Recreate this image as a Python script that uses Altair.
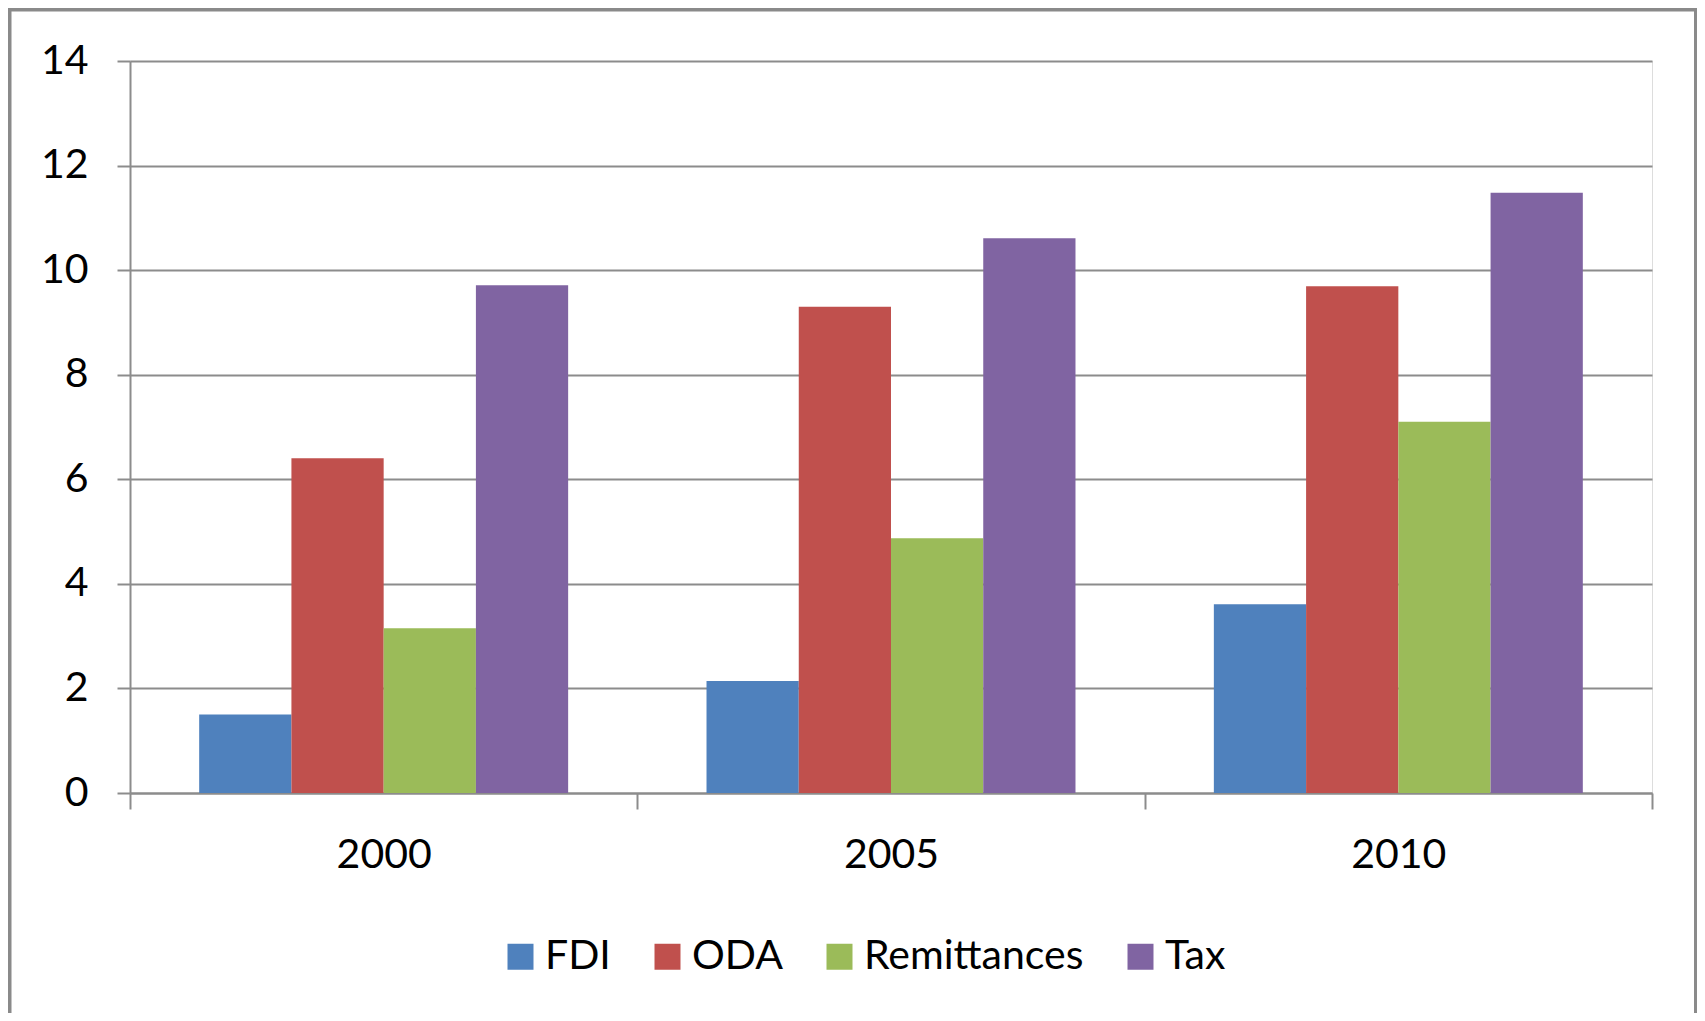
import altair as alt
import pandas as pd

years = ["2000", "2005", "2010"]
series = ["FDI", "ODA", "Remittances", "Tax"]
fdi = [1.5, 2.14, 3.61]
oda = [6.4, 9.3, 9.69]
remittances = [3.15, 4.87, 7.1]
tax = [9.71, 10.61, 11.48]
colors = ["#4F81BD", "#C0504D", "#9BBB59", "#8064A2"]
y_ticks = [0, 2, 4, 6, 8, 10, 12, 14]

rows = []
for i, yr in enumerate(years):
    for s, vals in zip(series, [fdi, oda, remittances, tax]):
        rows.append({"year": yr, "series": s, "value": vals[i]})
df = pd.DataFrame(rows)

W, H = 1522, 732
FONT = "Lato"
FS = 41
GRID = "#8C8C8C"

bars = alt.Chart(df).mark_bar(strokeWidth=0).encode(
    x=alt.X(
        "year:N", sort=years,
        scale=alt.Scale(paddingInner=0, paddingOuter=0),
        axis=alt.Axis(
            title=None, labelAngle=0, tickBand="extent", ticks=True, tickSize=16,
            tickColor=GRID, tickWidth=2, domainColor=GRID, domainWidth=2,
            labelFont=FONT, labelFontSize=FS, labelColor="#000000",
            labelPadding=26, grid=False,
        ),
    ),
    xOffset=alt.XOffset(
        "series:N", sort=series,
        scale=alt.Scale(paddingOuter=0.75, paddingInner=0),
    ),
    y=alt.Y(
        "value:Q",
        scale=alt.Scale(domain=[0, 14], nice=False),
        axis=alt.Axis(
            title=None, values=y_ticks, grid=True, gridColor=GRID, gridWidth=2,
            tickSize=13, tickColor=GRID, tickWidth=2, domainColor=GRID, domainWidth=2,
            labelFont=FONT, labelFontSize=FS, labelColor="#000000", labelPadding=29,
        ),
    ),
    color=alt.Color(
        "series:N", sort=series,
        scale=alt.Scale(domain=series, range=colors),
        legend=alt.Legend(
            title=None, orient="none", legendX=370, legendY=875,
            direction="horizontal", columns=4, symbolType="square",
            symbolSize=676, symbolStrokeWidth=0, labelFont=FONT,
            labelFontSize=FS, labelColor="#000000", labelOffset=4,
            labelLimit=500, columnPadding=36, padding=0,
        ),
    ),
)

frame = alt.Chart(pd.DataFrame({"f": [0]})).mark_rect(
    fill=None, stroke="#8A8A8A", strokeWidth=4
).encode(
    x=alt.value(-120.5), x2=alt.value(1566),
    y=alt.value(-51.5), y2=alt.value(990),
)

chart = alt.layer(bars, frame).properties(
    width=W, height=H,
    autosize=alt.AutoSizeParams(type="none"),
    padding={"left": 122, "top": 53, "right": 45, "bottom": 220},
).configure_view(stroke=None).configure(background="white")

chart.save("out.html", embed_options={"renderer": "svg", "actions": False})
